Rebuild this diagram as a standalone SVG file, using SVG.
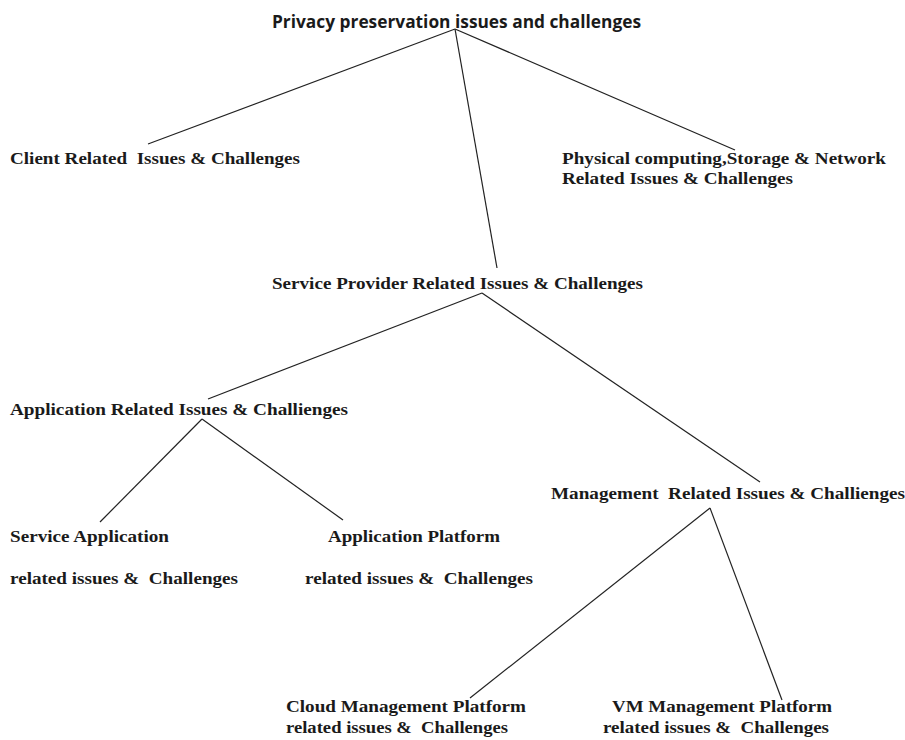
<svg xmlns="http://www.w3.org/2000/svg" width="905" height="740" viewBox="0 0 905 740">
<style>
.t{font-family:"Liberation Serif","Times New Roman",serif;font-weight:bold;font-size:17.5px;fill:#1a1a1a}
.h{font-family:"Open Sans","Liberation Sans",Arial,sans-serif;font-weight:bold;font-size:17px;fill:#1a1a1a}
.c line{stroke:#222;stroke-width:1.2}
</style>
<rect width="905" height="740" fill="#fff"/>
<g class="c" id="connectors">
<line x1="455" y1="29" x2="148" y2="144"/>
<line x1="455" y1="29" x2="497" y2="268"/>
<line x1="455" y1="29" x2="735" y2="150"/>
<line x1="482" y1="293" x2="208" y2="399"/>
<line x1="482" y1="293" x2="760" y2="482"/>
<line x1="202" y1="419" x2="100" y2="522"/>
<line x1="202" y1="419" x2="343" y2="520"/>
<line x1="710" y1="508" x2="470" y2="698"/>
<line x1="710" y1="508" x2="782" y2="700"/>
</g>
<g id="root"><text class="h" x="272" y="28" textLength="369" lengthAdjust="spacingAndGlyphs">Privacy preservation issues and challenges</text></g>
<g id="client"><text class="t" x="10" y="164" textLength="290" lengthAdjust="spacingAndGlyphs" xml:space="preserve">Client Related  Issues &amp; Challenges</text></g>
<g id="physical">
<text class="t" x="562" y="164" textLength="324" lengthAdjust="spacingAndGlyphs">Physical computing,Storage &amp; Network</text>
<text class="t" x="562" y="184" textLength="231" lengthAdjust="spacingAndGlyphs">Related Issues &amp; Challenges</text>
</g>
<g id="service-provider"><text class="t" x="272" y="289" textLength="371" lengthAdjust="spacingAndGlyphs">Service Provider Related Issues &amp; Challenges</text></g>
<g id="application"><text class="t" x="10" y="415" textLength="338" lengthAdjust="spacingAndGlyphs">Application Related Issues &amp; Challienges</text></g>
<g id="management"><text class="t" x="551" y="499" textLength="354" lengthAdjust="spacingAndGlyphs" xml:space="preserve">Management  Related Issues &amp; Challienges</text></g>
<g id="service-application">
<text class="t" x="10" y="542" textLength="159" lengthAdjust="spacingAndGlyphs">Service Application</text>
<text class="t" x="10" y="584" textLength="228" lengthAdjust="spacingAndGlyphs" xml:space="preserve">related issues &amp;  Challenges</text>
</g>
<g id="application-platform">
<text class="t" x="328" y="542" textLength="172" lengthAdjust="spacingAndGlyphs">Application Platform</text>
<text class="t" x="305" y="584" textLength="228" lengthAdjust="spacingAndGlyphs" xml:space="preserve">related issues &amp;  Challenges</text>
</g>
<g id="cloud-management">
<text class="t" x="286" y="712" textLength="240" lengthAdjust="spacingAndGlyphs">Cloud Management Platform</text>
<text class="t" x="286" y="733" textLength="222" lengthAdjust="spacingAndGlyphs" xml:space="preserve">related issues &amp;  Challenges</text>
</g>
<g id="vm-management">
<text class="t" x="612" y="712" textLength="220" lengthAdjust="spacingAndGlyphs">VM Management Platform</text>
<text class="t" x="603" y="733" textLength="226" lengthAdjust="spacingAndGlyphs" xml:space="preserve">related issues &amp;  Challenges</text>
</g>
</svg>
